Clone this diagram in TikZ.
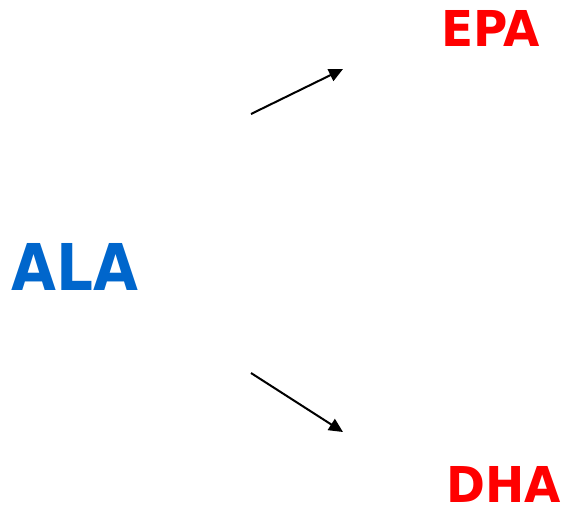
\documentclass[tikz,border=0pt]{standalone}
\usepackage{fontspec}
\setmainfont{DejaVu Sans}
\newfontfamily\labelfont[FakeStretch=0.9]{DejaVu Sans Bold}
\newfontfamily\productfont[FakeStretch=0.95]{DejaVu Sans Bold}
\usetikzlibrary{arrows.meta}
\definecolor{alablue}{HTML}{0066CC}
\definecolor{fared}{HTML}{FF0000}
\begin{document}
\begin{tikzpicture}[x=1pt,y=-1pt,
  acid/.style={inner sep=0pt,anchor=base},
  big/.style={acid,text=alablue,font=\labelfont\fontsize{64.5}{64.5}\selectfont},
  small/.style={acid,text=fared,font=\productfont\fontsize{49.4}{49.4}\selectfont},
  conv/.style={line width=2pt,-{Triangle[length=14pt,width=13pt]}}]
  \useasboundingbox (0,0) rectangle (564,507);
  \node[big]   (ala) at (75,290)   {ALA};
  \node[small] (epa) at (490.5,46) {EPA};
  \node[small] (dha) at (503.5,502){DHA};
  \coordinate (toEpaS) at (251,114);
  \coordinate (toEpaE) at (343,69);
  \coordinate (toDhaS) at (251,373);
  \coordinate (toDhaE) at (343,432);
  \draw[conv] (toEpaS) -- (toEpaE);
  \draw[conv] (toDhaS) -- (toDhaE);
\end{tikzpicture}
\end{document}
